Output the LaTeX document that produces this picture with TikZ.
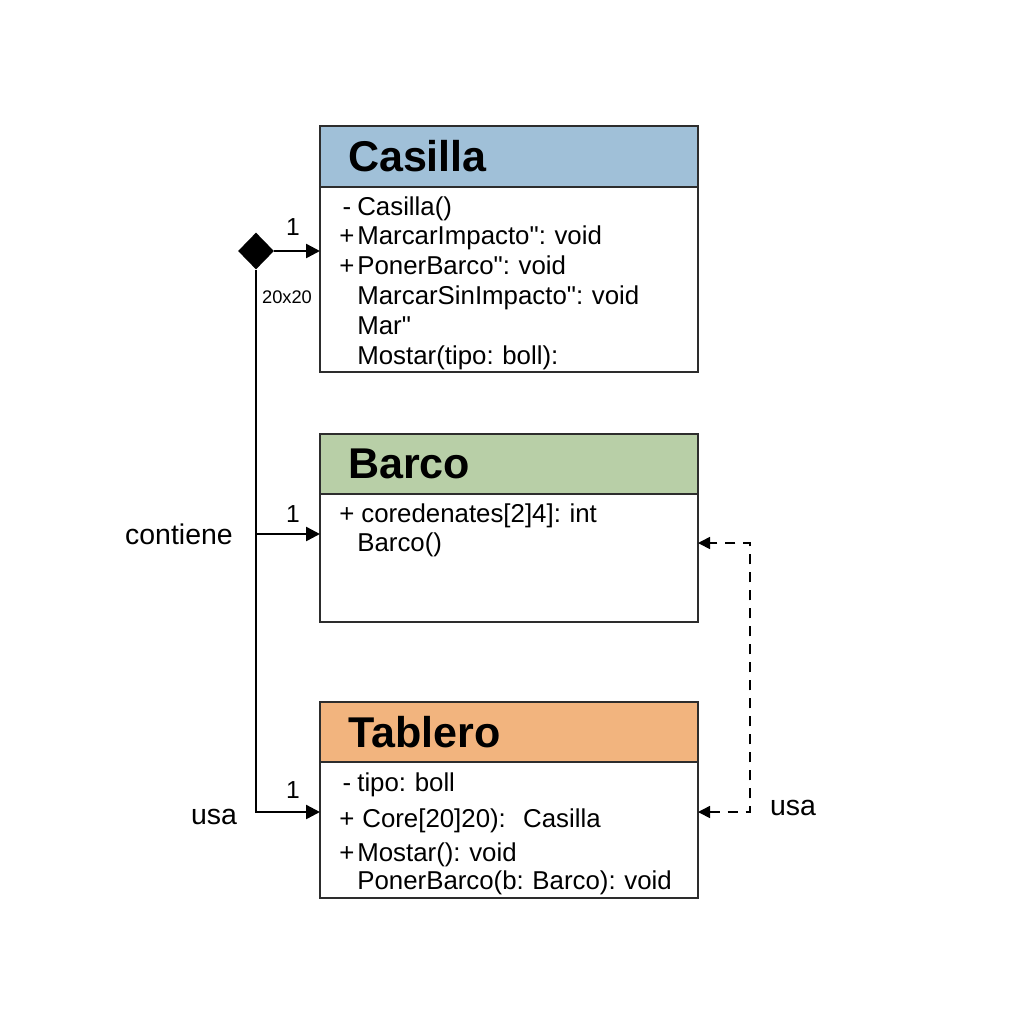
\documentclass[tikz,border=0pt]{standalone}
\usepackage{fontspec}
\setmainfont{Liberation Sans}[Ligatures=TeXOff]
\usetikzlibrary{positioning,shapes.geometric,arrows.meta}
\definecolor{casillaBlue}{RGB}{160,192,216}
\definecolor{barcoGreen}{RGB}{184,207,167}
\definecolor{tableroOrange}{RGB}{242,180,126}
\definecolor{boxLine}{RGB}{45,45,45}
\newcommand{\vis}[1]{\makebox[0.42cm][c]{#1}}
\frenchspacing

\begin{document}
\begin{tikzpicture}[
  head/.style={draw=boxLine, line width=1.1pt, outer sep=0pt, minimum height=1.2cm,
    text width=6.44cm, inner xsep=0.56cm, inner ysep=0pt, align=left,
    font=\fontsize{24.5}{28}\selectfont\bfseries},
  body/.style={draw=boxLine, line width=1.1pt, outer sep=0pt, fill=white,
    minimum width=7.56cm, inner sep=0pt},
  members/.style={anchor=base west, text width=7cm, align=left, inner sep=0pt,
    font=\fontsize{14.7}{17}\selectfont},
  lbl/.style={font=\fontsize{16.2}{19}\selectfont},
  mult/.style={font=\fontsize{14}{16}\selectfont},
  assoc/.style={line width=1.4pt, -{Triangle[length=0.28cm,width=0.28cm]}},
  dep/.style={line width=0.9pt, dash pattern=on 0.2cm off 0.16cm,
    {Triangle[length=0.24cm,width=0.24cm]}-{Triangle[length=0.24cm,width=0.24cm]}}
]
\useasboundingbox (0,0) rectangle (20.48,-20.48);
\fill[white] (0,0) rectangle (20.48,-20.48);

% clase Casilla
\node[head, fill=casillaBlue, minimum height=1.22cm] (casilla) at (10.18,-3.13) {Casilla};
\node[body, minimum height=3.70cm, below=0pt of casilla] (casillaBody) {};
\node[members] (casillaText) at (6.72,-4.30) {\vis{-}Casilla()\\
\vis{+}MarcarImpacto": void\\
\vis{+}PonerBarco": void\\
\vis{}MarcarSinImpacto": void\\
\vis{}Mar"\\
\vis{}Mostar(tipo: boll):};

% clase Barco
\node[head, fill=barcoGreen] (barco) at (10.18,-9.28) {Barco};
\node[body, minimum height=2.56cm, below=0pt of barco] (barcoBody) {};
\node[members] (barcoText) at (6.72,-10.44) {\vis{+}\hspace{0.08cm}coredenates[2]4]: int\\
\vis{}Barco()};

% clase Tablero
\node[head, fill=tableroOrange] (tablero) at (10.18,-14.64) {Tablero};
\node[body, minimum height=2.72cm, below=0pt of tablero] (tableroBody) {};
\node[members] (tableroText) at (6.72,-15.82) {\vis{-}tipo: boll\\[4pt]
\vis{+}\hspace{0.1cm}Core[20]20):\ \ Casilla\\[2pt]
\vis{+}Mostar(): void\\[-1pt]
\vis{}PonerBarco(b: Barco): void};

% composicion
\node[diamond, fill=black, minimum width=0.72cm, minimum height=0.74cm, inner sep=0pt] (comp) at (5.12,-5.02) {};
\coordinate (joinB) at (5.12,-10.68);
\coordinate (joinT) at (5.12,-16.24);
\draw[assoc] (comp.east) -- (comp.east -| casillaBody.west);
\draw[assoc] (comp.south) -- (joinT) -- (joinT -| tableroBody.west);
\draw[assoc] (joinB) -- (joinB -| barcoBody.west);

% dependencia
\coordinate (bendB) at (15.0,-10.86);
\coordinate (bendT) at (15.0,-16.24);
\draw[dep] (bendT -| tableroBody.east) -- (bendT) -- (bendB) -- (bendB -| barcoBody.east);

% etiquetas
\node[mult] (oneC) at (5.86,-4.54) {1};
\node[mult] (oneB) at (5.86,-10.28) {1};
\node[mult] (oneT) at (5.86,-15.80) {1};
\node[font=\fontsize{10.4}{12}\selectfont] (size) at (5.74,-5.94) {20x20};
\node[lbl] (contiene) at (3.58,-10.68) {contiene};
\node[lbl] (usaL) at (4.28,-16.34) {usa};
\node[lbl] (usaR) at (15.86,-16.16) {usa};
\end{tikzpicture}
\end{document}
